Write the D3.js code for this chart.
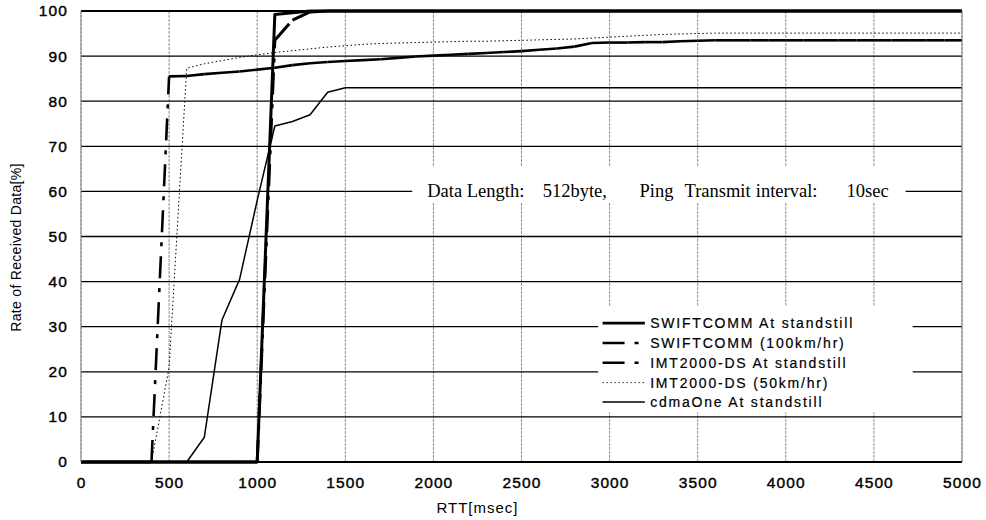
<!DOCTYPE html>
<html>
<head>
<meta charset="utf-8">
<script src="https://cdn.jsdelivr.net/npm/d3@7"></script>
<style>
  body { margin: 0; background: #fff; }
  text { font-family: "Liberation Sans", Arial, sans-serif; }
</style>
</head>
<body>
<div class="chart"></div>
<script>
// RTT sample points (msec)
const rtt = [0, 100, 200, 300, 400, 500, 600, 700, 800, 900, 1000,
  1100, 1200, 1300, 1400, 1500, 1600, 1700, 1800, 1900, 2000,
  2100, 2200, 2300, 2400, 2500, 2600, 2700, 2800, 2900, 3000,
  3100, 3200, 3300, 3400, 3500, 3600, 3700, 3800, 3900, 4000,
  4100, 4200, 4300, 4400, 4500, 4600, 4700, 4800, 4900, 5000];

const swiftStill = [0, 0, 0, 0, 0, 0, 0, 0, 0, 0, 0,
  99.2, 99.6, 100, 100, 100, 100, 100, 100, 100, 100,
  100, 100, 100, 100, 100, 100, 100, 100, 100, 100,
  100, 100, 100, 100, 100, 100, 100, 100, 100, 100,
  100, 100, 100, 100, 100, 100, 100, 100, 100, 100];

const swift100 = [0, 0, 0, 0, 0, 0, 0, 0, 0, 0, 0,
  93.5, 98, 99.8, 100, 100, 100, 100, 100, 100, 100,
  100, 100, 100, 100, 100, 100, 100, 100, 100, 100,
  100, 100, 100, 100, 100, 100, 100, 100, 100, 100,
  100, 100, 100, 100, 100, 100, 100, 100, 100, 100];

const imtStill = [0, 0, 0, 0, 0, 85.5, 85.6, 86.0, 86.3, 86.6, 87.0,
  87.4, 88.0, 88.4, 88.7, 88.9, 89.1, 89.3, 89.6, 89.9, 90.1,
  90.3, 90.5, 90.7, 90.9, 91.1, 91.4, 91.7, 92.1, 92.9, 93.0,
  93.0, 93.1, 93.1, 93.3, 93.4, 93.5, 93.5, 93.5, 93.5, 93.5,
  93.5, 93.5, 93.5, 93.5, 93.5, 93.5, 93.5, 93.5, 93.5, 93.5];

const imt50 = [0, 0, 0, 0, 0, 21, 87.3, 88.3, 89.0, 89.7, 90.3,
  90.8, 91.2, 91.6, 92.0, 92.3, 92.6, 92.8, 92.9, 93.0, 93.1,
  93.2, 93.3, 93.3, 93.4, 93.5, 93.6, 93.7, 93.8, 94.0, 94.2,
  94.4, 94.6, 94.8, 94.9, 95.0, 95.1, 95.1, 95.1, 95.1, 95.1,
  95.1, 95.1, 95.1, 95.1, 95.1, 95.1, 95.1, 95.1, 95.1, 95.1];

const cdma = [0, 0, 0, 0, 0, 0, 0, 5.5, 31.5, 40.5, 58,
  74.5, 75.5, 77, 82, 83, 83, 83, 83, 83, 83,
  83, 83, 83, 83, 83, 83, 83, 83, 83, 83,
  83, 83, 83, 83, 83, 83, 83, 83, 83, 83,
  83, 83, 83, 83, 83, 83, 83, 83, 83, 83];

const seriesNames = [
  "SWIFTCOMM At standstill",
  "SWIFTCOMM (100km/hr)",
  "IMT2000-DS At standstill",
  "IMT2000-DS (50km/hr)",
  "cdmaOne At standstill"
];
const xTicks = [0, 500, 1000, 1500, 2000, 2500, 3000, 3500, 4000, 4500, 5000];
const yTicks = [0, 10, 20, 30, 40, 50, 60, 70, 80, 90, 100];
const notePieces = ["Data Length:", "512byte,", "Ping", "Transmit", "interval:", "10sec"];

const styles = [
  { width: 3, dash: null },
  { width: 3, dash: "22,10,4,10" },
  { width: 2.6, dash: "22,10,4,10" },
  { width: 1, dash: "1.5,2.5" },
  { width: 1.5, dash: null }
];
const values = [swiftStill, swift100, imtStill, imt50, cdma];

const margin = { top: 11, left: 81, right: 24, bottom: 58 };
const totalWidth = 986, totalHeight = 520;
const width = totalWidth - margin.left - margin.right,
  height = totalHeight - margin.top - margin.bottom;

const svg = d3.select(".chart").append("svg")
  .attr("width", totalWidth)
  .attr("height", totalHeight);

const g = svg.append("g")
  .attr("transform", `translate(${margin.left},${margin.top})`);

const xScale = d3.scaleLinear().domain([0, 5000]).range([0, width]);
const yScale = d3.scaleLinear().domain([0, 100]).range([height, 0]);

// vertical grid (thin grey)
g.append("g").selectAll("line")
  .data(xTicks)
  .join("line")
  .attr("x1", d => xScale(d)).attr("x2", d => xScale(d))
  .attr("y1", 0).attr("y2", height)
  .attr("stroke", "#8c8c8c")
  .attr("stroke-width", 1)
  .attr("stroke-dasharray", "3,1");

// horizontal grid (black)
g.append("g").selectAll("line")
  .data(yTicks)
  .join("line")
  .attr("x1", 0).attr("x2", width)
  .attr("y1", d => yScale(d)).attr("y2", d => yScale(d))
  .attr("stroke", "#000")
  .attr("stroke-width", d => (d === 0 || d === 100) ? 1.8 : 1.3);

// annotation box and legend box cover the grid
const noteBox = { x0: 1880, x1: 4680, y0: 65.5, y1: 57.5 };
g.append("rect")
  .attr("x", xScale(noteBox.x0)).attr("y", yScale(noteBox.y0))
  .attr("width", xScale(noteBox.x1) - xScale(noteBox.x0))
  .attr("height", yScale(noteBox.y1) - yScale(noteBox.y0))
  .attr("fill", "#fff");

const legBox = { x0: 2935, x1: 4720, y0: 34.7, y1: 11 };
g.append("rect")
  .attr("x", xScale(legBox.x0)).attr("y", yScale(legBox.y0))
  .attr("width", xScale(legBox.x1) - xScale(legBox.x0))
  .attr("height", yScale(legBox.y1) - yScale(legBox.y0))
  .attr("fill", "#fff");

// data lines; dashed ones restart their pattern on each segment
const line = d3.line()
  .x(d => xScale(d[0]))
  .y(d => yScale(d[1]));

const order = [4, 3, 2, 1, 0];
order.forEach(i => {
  const pts = rtt.map((r, j) => [r, values[i][j]]);
  const st = styles[i];
  const sg = g.append("g")
    .attr("fill", "none")
    .attr("stroke", "#000")
    .attr("stroke-width", st.width)
    .attr("stroke-linejoin", "round");
  if (st.dash && i !== 3) {
    sg.selectAll("path")
      .data(d3.pairs(pts))
      .join("path")
      .attr("d", line)
      .attr("stroke-dasharray", st.dash);
  } else {
    sg.append("path")
      .datum(pts)
      .attr("d", line)
      .attr("stroke-dasharray", st.dash);
  }
});

// axes
const xAxis = d3.axisBottom(xScale).tickValues(xTicks).tickSize(0).tickPadding(15)
  .tickFormat(d3.format("d"));
const yAxis = d3.axisLeft(yScale).tickValues(yTicks).tickSize(0).tickPadding(13);

const xg = g.append("g").attr("transform", `translate(0,${height})`).call(xAxis);
const yg = g.append("g").call(yAxis);
xg.select(".domain").remove();
yg.select(".domain").remove();
[xg, yg].forEach(a => a.selectAll("text")
  .attr("font-size", 15.5)
  .attr("font-family", "Liberation Sans, Arial, sans-serif")
  .attr("letter-spacing", 1.1)
  .attr("fill", "#000")
  .attr("stroke", "#000")
  .attr("stroke-width", 0.4));

// left / right border (thin grey)
g.append("line").attr("x1", 0).attr("x2", 0).attr("y1", 0).attr("y2", height)
  .attr("stroke", "#888").attr("stroke-width", 1);
g.append("line").attr("x1", width).attr("x2", width).attr("y1", 0).attr("y2", height)
  .attr("stroke", "#888").attr("stroke-width", 1);

// axis titles
svg.append("text")
  .attr("transform", `translate(21,${margin.top + height / 2 + 11}) rotate(-90)`)
  .attr("text-anchor", "middle")
  .attr("font-size", 14)
  .attr("letter-spacing", 0.3)
  .text("Rate of Received Data[%]");

svg.append("text")
  .attr("x", margin.left + xScale(2500) - 44)
  .attr("y", 513)
  .attr("text-anchor", "middle")
  .attr("font-size", 15)
  .attr("letter-spacing", 1)
  .text("RTT[msec]");

// annotation pieces placed where they sit in the reference
const noteX = [1965, 2620, 3170, 3425, 3830, 4345];
const noteY = yScale(60) + 6;
g.append("g").selectAll("text")
  .data(notePieces)
  .join("text")
  .attr("x", (d, i) => xScale(noteX[i]))
  .attr("y", noteY)
  .attr("font-size", 18.5)
  .style("font-family", "'Liberation Serif', 'Times New Roman', serif")
  .text(d => d);

// legend
const legRowY = [30.8, 26.4, 22.0, 17.6, 13.3];
const leg = g.append("g");
seriesNames.forEach((name, i) => {
  const y = yScale(legRowY[i]);
  const x0 = xScale(2960), x1 = xScale(3200);
  leg.append("line")
    .attr("x1", x0).attr("x2", x1)
    .attr("y1", y).attr("y2", y)
    .attr("stroke", "#000")
    .attr("stroke-width", i === 3 ? 0.8 : (i === 4 ? 1.5 : 2.6))
    .attr("stroke-dasharray", i === 3 ? "1.5,2.5" : styles[i].dash);
  leg.append("text")
    .attr("x", xScale(3230))
    .attr("y", y + 5)
    .attr("font-size", 14)
    .attr("letter-spacing", 1.8)
    .attr("stroke", "#000")
    .attr("stroke-width", 0.2)
    .text(name);
});
</script>
</body>
</html>
